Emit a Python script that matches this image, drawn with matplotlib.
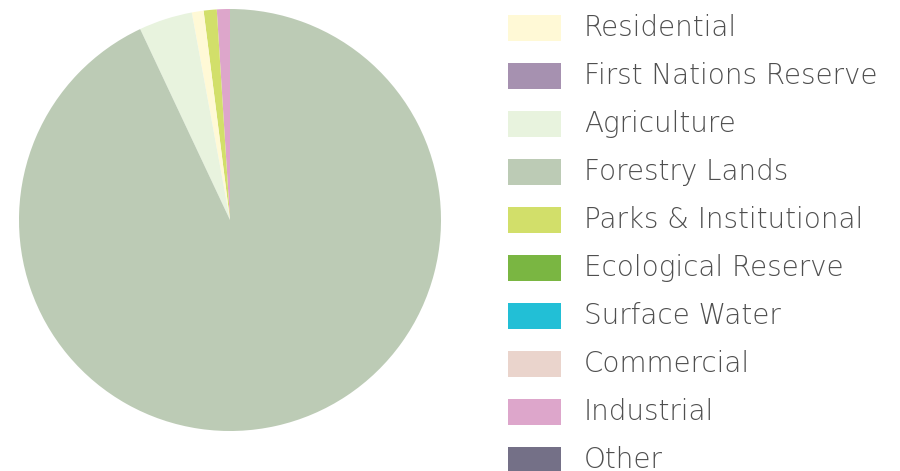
import matplotlib.pyplot as plt
from matplotlib.patches import Rectangle

# legend order
categories = ["Residential", "First Nations Reserve", "Agriculture", "Forestry Lands",
              "Parks & Institutional", "Ecological Reserve", "Surface Water",
              "Commercial", "Industrial", "Other"]
colors = ["#FFF9D6", "#A691B0", "#E8F3DE", "#BCCBB5", "#D2DF6A",
          "#7AB642", "#22BFD6", "#EAD4CC", "#DDA6CB", "#747087"]
# percent of land area
shares = [0.9, 0.0, 4.1, 93.0, 1.0, 0.0, 0.0, 0.0, 1.0, 0.0]

# wedge order going counter-clockwise from 12 o'clock
pie_order = ["Industrial", "Parks & Institutional", "Residential", "Agriculture", "Forestry Lands"]

fig = plt.figure(figsize=(9, 4.71), dpi=100)
W, H = 900, 471

ax = fig.add_axes([19 / W, (H - 431) / H, 422 / W, 422 / H])
idx = [categories.index(c) for c in pie_order]
ax.pie([shares[i] for i in idx], colors=[colors[i] for i in idx],
       startangle=90, counterclock=True, radius=1.0)
ax.set_xlim(-1, 1)
ax.set_ylim(-1, 1)
ax.set_aspect("equal")

# legend drawn in pixel coordinates
lg = fig.add_axes([500 / W, 0, 400 / W, 1])
lg.set_xlim(500, 900)
lg.set_ylim(H, 0)
lg.set_axis_off()
for i, (name, col) in enumerate(zip(categories, colors)):
    y = 15 + 48 * i
    lg.add_patch(Rectangle((508, y), 53, 26, facecolor=col, edgecolor="none"))
    lg.text(584, y + 21, name, va="baseline", ha="left", fontsize=20,
            family="DejaVu Sans", fontweight=200, color="#4f4f4f")

fig.savefig("out.png", dpi=100)
